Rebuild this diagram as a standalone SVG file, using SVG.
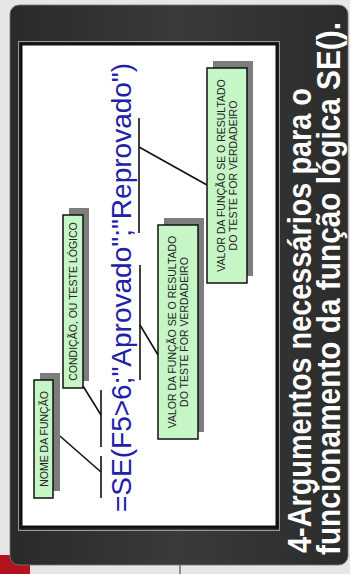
<svg xmlns="http://www.w3.org/2000/svg" width="350" height="574" viewBox="0 0 350 574">
<defs>
<linearGradient id="dark" x1="0" y1="0" x2="1" y2="0">
<stop offset="0" stop-color="#2a2a2a"/>
<stop offset="0.5" stop-color="#3a3a3a"/>
<stop offset="1" stop-color="#2c2c2c"/>
</linearGradient>
<style>
.box{fill:#c6f5c6;stroke:#111;stroke-width:1.5}
.shadow{fill:#7d7d7d}
.lbl{font-family:"Liberation Sans",Arial,sans-serif;font-size:10.5px;fill:#222}
.title{font-family:"Liberation Sans",Arial,sans-serif;font-weight:bold;font-size:29.5px;fill:#fff}
.formula{font-family:"Liberation Sans",Arial,sans-serif;font-size:28px;fill:#2020a8}
.conn line{stroke:#111;stroke-width:1.6}
</style>
</defs>
<rect x="0" y="0" width="350" height="574" fill="#e6e6e6"/>
<rect x="0" y="555" width="30" height="19" fill="#b3121f"/>
<line x1="180" y1="565" x2="180" y2="574" stroke="#333" stroke-width="1"/>
<rect x="10" y="5" width="338" height="560" rx="9" fill="url(#dark)" stroke="#777" stroke-width="0.8"/>
<g id="panel">
<rect x="18.5" y="41.5" width="261" height="489" fill="none" stroke="#9a9a9a" stroke-width="1"/>
<rect x="21" y="44" width="256" height="483" fill="#fff" stroke="#111" stroke-width="3"/>
</g>
<g id="title">
<text class="title" transform="translate(311,553) rotate(-90) scale(1,1.1)" textLength="465" lengthAdjust="spacingAndGlyphs">4-Argumentos necessários para o</text>
<text class="title" transform="translate(340,555) rotate(-90) scale(1,1.1)" textLength="533" lengthAdjust="spacingAndGlyphs">funcionamento da função lógica SE().</text>
</g>
<g id="formula">
<text class="formula" transform="translate(131,512) rotate(-90)">=SE(F5&gt;6;"Aprovado";"Reprovado")</text>
</g>
<g id="conn" class="conn">
<line x1="101" y1="456" x2="101" y2="498"/>
<line x1="53" y1="430" x2="101" y2="472"/>
<line x1="101" y1="390" x2="101" y2="447"/>
<line x1="83" y1="386" x2="101" y2="415"/>
<line x1="140" y1="265" x2="140" y2="380"/>
<line x1="140" y1="325" x2="158" y2="355"/>
<line x1="139" y1="118" x2="139" y2="233"/>
<line x1="139" y1="147" x2="207" y2="185"/>
</g>
<g id="box-nome">
<rect class="shadow" x="40" y="373" width="20" height="118"/>
<rect class="box" x="34" y="380" width="19" height="118"/>
<text class="lbl" text-anchor="middle" transform="translate(48,439) rotate(-90)">NOME DA FUNÇÃO</text>
</g>
<g id="box-condicao">
<rect class="shadow" x="69" y="208" width="20" height="173"/>
<rect class="box" x="63" y="215" width="20" height="173"/>
<text class="lbl" text-anchor="middle" transform="translate(77,301.5) rotate(-90)">CONDIÇÃO, OU TESTE LÓGICO</text>
</g>
<g id="box-verdadeiro-1">
<rect class="shadow" x="164" y="218" width="40" height="214"/>
<rect class="box" x="158" y="225" width="40" height="214"/>
<text class="lbl" text-anchor="middle" transform="translate(175.5,332) rotate(-90)">VALOR DA FUNÇÃO SE O RESULTADO</text>
<text class="lbl" text-anchor="middle" transform="translate(187.5,332) rotate(-90)">DO TESTE FOR VERDADEIRO</text>
</g>
<g id="box-verdadeiro-2">
<rect class="shadow" x="213" y="61" width="40" height="215"/>
<rect class="box" x="207" y="68" width="40" height="215"/>
<text class="lbl" text-anchor="middle" transform="translate(225,175.5) rotate(-90)">VALOR DA FUNÇÃO SE O RESULTADO</text>
<text class="lbl" text-anchor="middle" transform="translate(237,175.5) rotate(-90)">DO TESTE FOR VERDADEIRO</text>
</g>
</svg>
